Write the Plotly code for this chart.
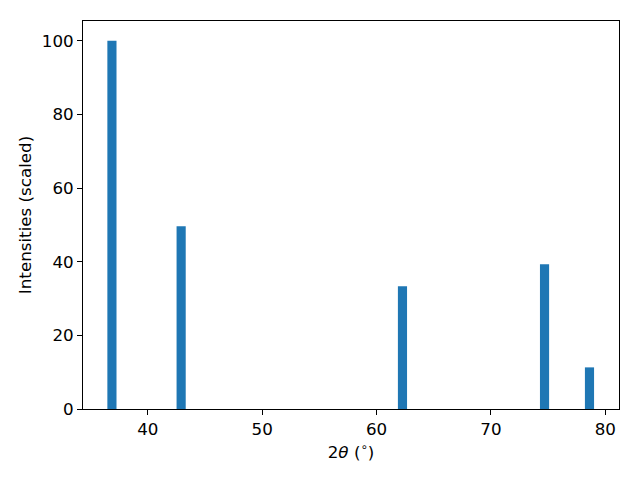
import plotly.graph_objects as go

two_theta = [36.87, 42.92, 62.27, 74.69, 78.62]
intensity = [100.0, 49.6, 33.3, 39.3, 11.3]
bar_width = 0.8

x_ticks = [40, 50, 60, 70, 80]
y_ticks = [0, 20, 40, 60, 80, 100]

fig = go.Figure()
fig.add_trace(go.Bar(
    x=two_theta, y=intensity, width=bar_width,
    marker=dict(color="#1f77b4", line=dict(width=0)),
))

font = dict(family="DejaVu Sans", size=16.7, color="black")
axis_common = dict(
    showline=True, mirror=True, linecolor="black", linewidth=1,
    ticks="outside", ticklen=5, tickwidth=1, tickcolor="black",
    showgrid=False, zeroline=False, tickfont=font,
)
# page body has an 8px default margin, so offsets are compensated
fig.update_layout(
    width=640, height=480,
    margin=dict(l=75, r=29, t=13, b=79),
    plot_bgcolor="white", paper_bgcolor="white",
    showlegend=False,
    xaxis=dict(range=[34.34, 81.2], tickvals=x_ticks,
               title=dict(text="2<i>θ</i> (<sup>∘</sup>)", font=font, standoff=8),
               **axis_common),
    yaxis=dict(range=[0, 105.35], tickvals=y_ticks,
               title=dict(text="Intensities (scaled)", font=font, standoff=5),
               **axis_common),
)
fig.write_html("out.html")
